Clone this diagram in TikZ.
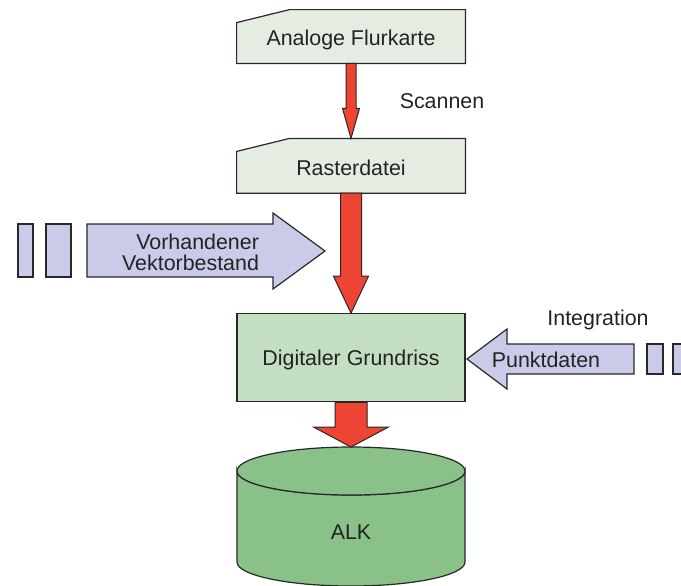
\documentclass[tikz,border=0pt]{standalone}
\usepackage{fontspec}
\setmainfont{Liberation Sans}
\usepackage{xcolor}
\usepackage{tikz}
\usetikzlibrary{positioning,calc,backgrounds}

\definecolor{cardfill}{RGB}{229,237,227}
\definecolor{boxfill}{RGB}{195,222,192}
\definecolor{dbfill}{RGB}{137,193,136}
\definecolor{inputfill}{RGB}{201,203,232}
\definecolor{flowred}{RGB}{238,68,51}
\definecolor{edge}{RGB}{40,40,40}
\definecolor{ink}{RGB}{35,35,35}

% block arrow: from, tip, half shaft, half head, head length
\newcommand\redflow[5]{%
  \filldraw[flow] ($(#1)+(-#3,0)$) -- ($(#2)+(-#3,-#5)$) -- ($(#2)+(-#4,-#5)$)
    -- (#2) -- ($(#2)+(#4,-#5)$) -- ($(#2)+(#3,-#5)$) -- ($(#1)+(#3,0)$) -- cycle;}

\begin{document}
\begin{tikzpicture}[
  x=0.5pt, y=-0.5pt,
  font=\fontsize{10.7}{10.6}\selectfont, text=ink,
  card/.style={minimum width=114pt, inner sep=0pt, text height=9.3pt, text depth=0pt},
  box/.style={draw=edge, line width=0.6pt, fill=boxfill, minimum width=114pt,
              minimum height=44pt, text height=7.5pt, text depth=0pt},
  cardline/.style={draw=edge, line width=0.6pt, fill=cardfill},
  input/.style={draw=edge, line width=0.6pt, fill=inputfill},
  flow/.style={draw=edge, line width=0.5pt, fill=flowred},
  db/.style={draw=edge, line width=0.6pt, fill=dbfill},
]
\useasboundingbox (0,0) rectangle (681,585);

\node[card, minimum height=26.5pt] (flur) at (351,36.5) {Analoge Flurkarte};
\node[card, minimum height=27pt, below=37.5pt of flur] (raster) {Rasterdatei};
\node[box, below=60pt of raster] (grund) {Digitaler Grundriss};

\begin{scope}[on background layer]
  \foreach \c in {flur,raster}
    \filldraw[cardline] (\c.south west) -- ($(\c.north west)+(0,13)$)
      -- ($(\c.north west)+(53,0)$) -- (\c.north east) -- (\c.south east) -- cycle;
\end{scope}

\node (scan) at (442,101) {Scannen};

% database
\filldraw[db] (237,471) -- (237,562) arc[start angle=180, end angle=0, x radius=114, y radius=24]
  -- (465,471) arc[start angle=0, end angle=180, x radius=114, y radius=24] -- cycle;
\filldraw[db] (351,471) ellipse[x radius=114, y radius=24];
\coordinate (alktop) at (351,447);
\node (alk) at (351,532) {ALK};

\redflow{flur.south}{raster.north}{5}{8.5}{30}
\redflow{raster.south}{grund.north}{10.5}{17.5}{37}
\redflow{grund.south}{alktop}{16}{37.5}{20}

% existing vector data
\filldraw[input] (18,224) rectangle (33,277);
\filldraw[input] (46,224) rectangle (71,277);
\filldraw[input] (87,224) -- (273,224) -- (273,213) -- (325,251) -- (273,289)
  -- (273,277) -- (87,277) -- cycle;
\node[align=right, anchor=east] (vektor) at (266,252) {Vorhandener\\Vektorbestand};

% point data
\filldraw[input] (634,344) -- (507,344) -- (507,329) -- (467,359) -- (507,389)
  -- (507,374) -- (634,374) -- cycle;
\filldraw[input] (647,344) rectangle (663,374);
\filldraw[input] (673,344) rectangle (689,374);
\node (punkt) at (546,360) {Punktdaten};
\node (integ) at (598,320) {Integration};

\end{tikzpicture}
\end{document}
